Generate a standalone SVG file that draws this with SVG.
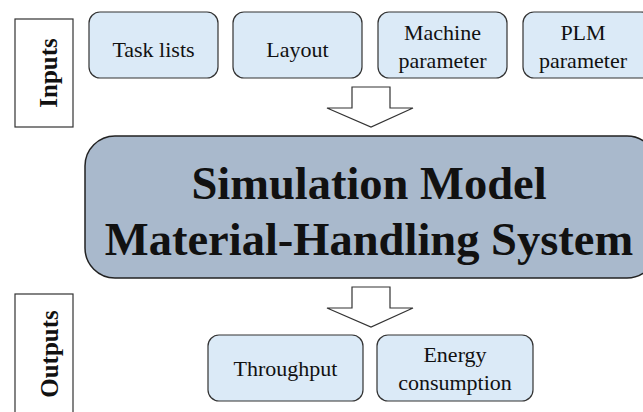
<svg xmlns="http://www.w3.org/2000/svg" width="643" height="412" viewBox="0 0 643 412">
<style>
.lbl{fill:#fff;stroke:#333;stroke-width:1.2}
.box{fill:#dbeaf7;stroke:#333;stroke-width:1.2}
.main{fill:#a9b9cc;stroke:#222;stroke-width:1.5}
.arr{fill:#fff;stroke:#333;stroke-width:1.2}
text{font-family:'Liberation Serif','Times New Roman',Times,serif;fill:#111;text-anchor:middle}
.t{font-size:22px}
.b{font-weight:bold}
</style>
<rect width="643" height="412" fill="#fff"/>
<g id="inputs">
<rect class="lbl" x="15" y="19" width="58" height="108"/>
<text class="b" font-size="25" transform="translate(57,73) rotate(-90)">Inputs</text>
</g>
<g id="task-lists">
<rect class="box" x="89" y="12" width="129" height="66" rx="11"/>
<text class="t" x="153.5" y="57">Task lists</text>
</g>
<g id="layout">
<rect class="box" x="233" y="12" width="129" height="66" rx="11"/>
<text class="t" x="297.5" y="57">Layout</text>
</g>
<g id="machine-parameter">
<rect class="box" x="378" y="12" width="129" height="66" rx="11"/>
<text class="t" x="442.5" y="40">Machine</text>
<text class="t" x="442.5" y="68">parameter</text>
</g>
<g id="plm-parameter">
<rect class="box" x="523" y="12" width="129" height="66" rx="11"/>
<text class="t" x="583" y="40">PLM</text>
<text class="t" x="583" y="68">parameter</text>
</g>
<g id="connectors">
<path class="arr" d="M352,87 H390 V108 H413 L371,127 L327,108 H352 Z"/>
<path class="arr" d="M352,287 H390 V308 H413 L371,327 L327,308 H352 Z"/>
</g>
<g id="simulation-model">
<rect class="main" x="85" y="136" width="572" height="142" rx="30"/>
<text class="b" font-size="46.5" x="369" y="199">Simulation Model</text>
<text class="b" font-size="46.5" x="369" y="255">Material-Handling System</text>
</g>
<g id="outputs">
<rect class="lbl" x="15" y="294" width="58" height="130"/>
<text class="b" font-size="25" transform="translate(58,354) rotate(-90)">Outputs</text>
</g>
<g id="throughput">
<rect class="box" x="208" y="335" width="155" height="66" rx="11"/>
<text class="t" x="285.5" y="376">Throughput</text>
</g>
<g id="energy-consumption">
<rect class="box" x="377" y="335" width="156" height="66" rx="11"/>
<text class="t" x="455" y="362">Energy</text>
<text class="t" x="455" y="390">consumption</text>
</g>
</svg>
